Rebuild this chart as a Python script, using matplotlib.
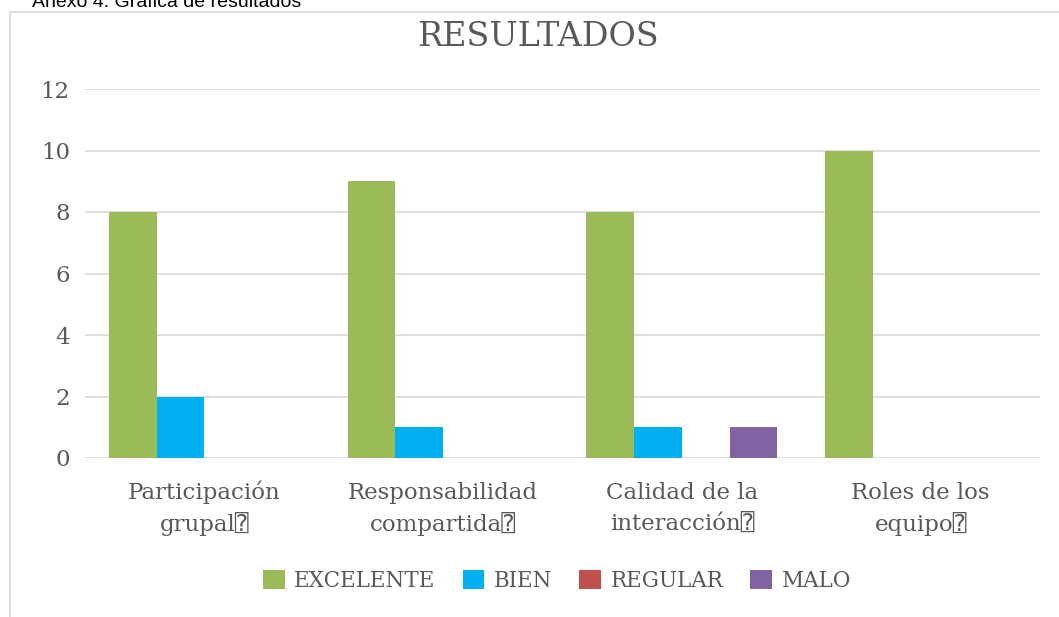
import numpy as np
import matplotlib.pyplot as plt
from matplotlib.patches import Rectangle
from matplotlib.transforms import offset_copy

# === Data ===
categories = ['Participación\ngrupal\u2370', 'Responsabilidad\ncompartida\u2370',
              'Calidad de la\ninteracción\u2370', 'Roles de los\nequipo\u2370']
series = ['EXCELENTE', 'BIEN', 'REGULAR', 'MALO']
excelente = [8, 9, 8, 10]
bien = [2, 1, 1, 0]
regular = [0, 0, 0, 0]
malo = [0, 0, 1, 0]
colors = ['#9bbb59', '#00b0f0', '#c0504d', '#8064a2']

serif = ['DejaVu Serif', 'DejaVu Sans Mono', 'DejaVu Sans', 'Noto Sans']
grey = '#595959'

fig = plt.figure(figsize=(10.59, 6.17), dpi=100)
W, H = 1059, 617

# chart frame
fig.patches.append(Rectangle((10 / W, -0.1), 1.2, 1 - 12 / H + 0.1, transform=fig.transFigure,
                             fill=False, edgecolor='#d9d9d9', lw=1.2))
fig.text(32 / W, 1 - 7 / H, 'Anexo 4: Gráfica de resultados', family='Liberation Sans',
         fontsize=14, va='baseline', ha='left', color='black')

ax = fig.add_axes([85 / W, 1 - 458 / H, (1040 - 85) / W, (458 - 89) / H])
x = np.arange(len(categories))
bw = 0.2
for i, (vals, name) in enumerate(zip([excelente, bien, regular, malo], series)):
    ax.bar(x + (i - 1.5) * bw, vals, width=bw, color=colors[i], label=name, zorder=3)

ax.set_xlim(-0.5, len(categories) - 0.5)
ax.set_ylim(0, 12)
ax.set_yticks(range(0, 13, 2))
ax.grid(axis='y', color='#d9d9d9', lw=1.2, zorder=0)
for s in ax.spines.values():
    s.set_visible(False)
ax.tick_params(length=0, colors=grey, labelsize=16.5)
ax.tick_params(axis='y', pad=11)
for lab in ax.get_yticklabels():
    lab.set_family(serif)

# category labels, two lines each, on fixed baselines
ax.set_xticks(x)
ax.set_xticklabels([''] * len(categories))
xt = ax.get_xaxis_transform()
for xi, cat in zip(x, categories):
    for j, line in enumerate(cat.split('\n')):
        ax.text(xi, 0, line, transform=offset_copy(xt, fig=fig, y=-41 - 32 * j, units='dots'),
                ha='center', va='baseline', family=serif, fontsize=16.5, color=grey)

fig.text(538 / W, 1 - 37 / H, 'RESULTADOS', family=serif, fontsize=24, color=grey,
         ha='center', va='center')

leg = fig.legend(loc='center', bbox_to_anchor=(557 / W, 1 - 581 / H), ncol=4, frameon=False,
                 prop={'family': serif, 'size': 15.5}, handlelength=1.0, handleheight=1.0,
                 handletextpad=0.45, columnspacing=1.25)
for t in leg.get_texts():
    t.set_color(grey)

fig.savefig('out.png', dpi=100)
